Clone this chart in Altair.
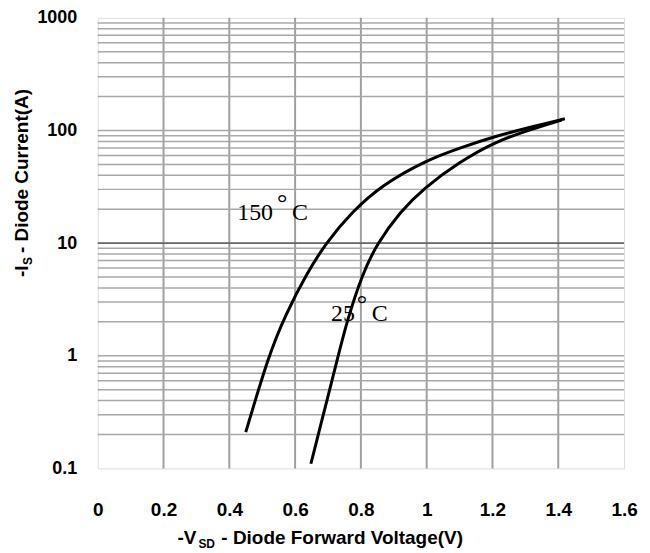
import altair as alt
import pandas as pd

# ---- data ----
v_150 = [0.45, 0.521, 0.572, 0.634, 0.693, 0.774, 0.865, 0.996, 1.10, 1.21, 1.32, 1.42]
i_150 = [0.21, 1.04, 2.35, 5.27, 10.0, 19.1, 32.9, 54.0, 70.0, 89.0, 108.0, 127.0]
v_25 = [0.648, 0.702, 0.73, 0.757, 0.804, 0.85, 0.92, 0.99, 1.097, 1.21, 1.32, 1.41]
i_25 = [0.11, 0.46, 0.97, 2.0, 5.3, 10.0, 19.1, 30.5, 52.0, 80.0, 103.0, 124.0]

x_ticks = [0, 0.2, 0.4, 0.6, 0.8, 1, 1.2, 1.4, 1.6]
y_ticks = [0.1, 1, 10, 100, 1000]
x_grid = [0.2, 0.4, 0.6, 0.8, 1.0, 1.2, 1.4]
y_grid = [d * k for d in [0.1, 1, 10, 100] for k in range(1, 10) if d * k > 0.1]
y_dark = [10]

labels = ["150", "°", "C", "25", "°", "C"]
label_v = [0.424, 0.424, 0.424, 0.709, 0.709, 0.709]
label_i = [16.2, 16.2, 16.2, 2.04, 2.04, 2.04]

FONT = "Liberation Sans"
SERIF = "Liberation Serif"

curves = pd.DataFrame({
    "v": v_150 + v_25,
    "i": i_150 + i_25,
    "series": ["150°C"] * len(v_150) + ["25°C"] * len(v_25),
})

xs = alt.Scale(domain=[0, 1.6], nice=False, zero=False)
ys = alt.Scale(type="log", domain=[0.1, 1000], nice=False)

x_axis = alt.Axis(values=x_ticks, format="~g", title=None, grid=False, ticks=False,
                  domain=False, labelFont=FONT, labelFontWeight="bold", labelFontSize=19,
                  labelColor="black", labelPadding=32, labelFlush=False)
y_axis = alt.Axis(values=y_ticks, format="~g", title=None, grid=False, ticks=False,
                  domain=False, labelFont=FONT, labelFontWeight="bold", labelFontSize=18,
                  labelColor="black", labelPadding=21)

X = lambda f: alt.X(f, type="quantitative", scale=xs, axis=x_axis)
Y = lambda f: alt.Y(f, type="quantitative", scale=ys, axis=y_axis)

vgrid = alt.Chart(pd.DataFrame({"v": x_grid})).mark_rule(
    color="#a0a0a0", strokeWidth=2).encode(x=X("v"))
hgrid = alt.Chart(pd.DataFrame({"i": y_grid})).mark_rule(
    color="#a8a8a8", strokeWidth=1.5).encode(y=Y("i"))
hdark = alt.Chart(pd.DataFrame({"i": y_dark})).mark_rule(
    color="#333333", strokeWidth=1).encode(y=Y("i"))

lines = alt.Chart(curves).mark_line(
    color="black", strokeWidth=3, interpolate="basis").encode(
    x=X("v"), y=Y("i"), detail="series:N")

ann_df = pd.DataFrame({"t": labels, "v": label_v, "i": label_i})

def ann(idx, dx, dy, size):
    return alt.Chart(ann_df.iloc[[idx]]).mark_text(
        font=SERIF, fontSize=size, align="left", baseline="alphabetic",
        dx=dx, dy=dy, color="black").encode(x=X("v"), y=Y("i"), text="t:N")

anns = [ann(0, 0, 0, 24), ann(1, 40, -9, 26), ann(2, 55, 0, 24),
        ann(3, 0, 0, 24), ann(4, 26, -9, 26), ann(5, 41, 0, 24)]

one = alt.Data(values=[{"a": 1}])

def txt(text, x, y, size, align="left", angle=0):
    return alt.Chart(one).mark_text(
        text=text, font=FONT, fontWeight="bold", fontSize=size, align=align,
        baseline="middle", angle=angle, color="black").encode(
        x=alt.value(x), y=alt.value(y))

titles = [
    txt("-V", 80, 522, 19),
    txt("SD", 101, 528, 12),
    txt("- Diode Forward Voltage(V)", 124, 522, 19),
    txt("-I", -76, 260, 19, angle=270),
    txt("S", -70, 248, 12, angle=270),
    txt("- Diode Current(A)", -76, 236, 19, angle=270),
]

chart = alt.layer(vgrid, hgrid, hdark, lines, *anns, *titles).properties(
    width=528, height=452,
    autosize=alt.AutoSizeParams(type="none"),
    padding={"left": 90, "top": 9, "right": 18, "bottom": 84},
).configure_view(stroke="black", strokeWidth=2.5).configure(background="white")

chart.save("out.html", embed_options={"renderer": "svg", "actions": False})
